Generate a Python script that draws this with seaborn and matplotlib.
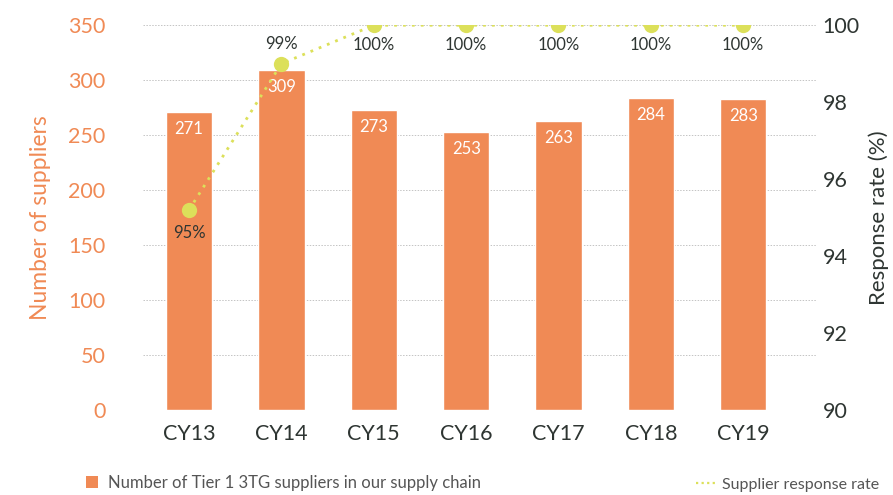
import matplotlib
matplotlib.use("Agg")
import matplotlib.pyplot as plt
from matplotlib.lines import Line2D
import numpy as np
import pandas as pd
import seaborn as sns

years = ["CY13", "CY14", "CY15", "CY16", "CY17", "CY18", "CY19"]
suppliers = [271, 309, 273, 253, 263, 284, 283]
response_rate = [95.2, 99.0, 100, 100, 100, 100, 100]

ORANGE = "#F08A55"
LIME = "#DCE05A"
DARK = "#2E3532"
GRID = "#C4C4C4"

sns.set_theme(style="white")
plt.rcParams["font.family"] = ["Lato", "DejaVu Sans"]

df = pd.DataFrame({"year": years, "suppliers": suppliers, "rate": response_rate})

fig = plt.figure(figsize=(8.93, 4.95), dpi=100)
ax = fig.add_axes([0.160, 0.172, 0.755, 0.777])

sns.barplot(data=df, x="year", y="suppliers", color=ORANGE, width=0.5,
            saturation=1, ax=ax, zorder=2)
ax.set_ylim(0, 350)
ax.set_yticks(np.arange(0, 351, 50))
ax.set_xlim(-0.5, 6.8)
ax.yaxis.grid(True, color=GRID, linestyle=(0, (1.5, 1.5)), linewidth=0.7, zorder=0)
ax.set_axisbelow(True)
for s in ax.spines.values():
    s.set_visible(False)
ax.tick_params(axis="y", colors=ORANGE, labelsize=15.5, length=0, pad=27)
ax.tick_params(axis="x", colors=DARK, labelsize=15.5, length=0, pad=10)
ax.set_xlabel("")
ax.set_ylabel("Number of suppliers", color=ORANGE, fontsize=16.5, labelpad=12)

for i, v in enumerate(suppliers):
    ax.text(i, v - 8, f"{v}", ha="center", va="top", color="white", fontsize=12, zorder=5)

ax2 = ax.twinx()
sns.lineplot(x=np.arange(len(years)), y=response_rate, ax=ax2, color=LIME,
             linestyle=(0, (1, 2.2)), linewidth=2, marker="o", markersize=11,
             markeredgewidth=0, zorder=4)
ax2.set_ylim(90, 100)
ax2.set_yticks(np.arange(90, 101, 2))
for s in ax2.spines.values():
    s.set_visible(False)
ax2.tick_params(axis="y", colors=DARK, labelsize=15.5, length=0, pad=4)
ax2.set_ylabel("Response rate (%)", color=DARK, fontsize=16, labelpad=6)

for i, r in enumerate(response_rate):
    if r >= 99.9:
        ax2.text(i, r - 0.3, f"{r:.0f}%", ha="center", va="top", color=DARK, fontsize=12, zorder=5)
    elif i == 0:
        ax2.text(i, r - 0.4, f"{r:.0f}%", ha="center", va="top", color=DARK, fontsize=12, zorder=5)
    else:
        ax2.text(i, r + 0.3, f"{r:.0f}%", ha="center", va="bottom", color=DARK, fontsize=12, zorder=5)

bar_handle = Line2D([0], [0], marker="s", color="none", markerfacecolor=ORANGE,
                    markeredgewidth=0, markersize=8,
                    label="Number of Tier 1 3TG suppliers in our supply chain")
line_handle = Line2D([0], [0], color=LIME, linestyle=(0, (1, 1.5)), linewidth=1.6,
                     label="Supplier response rate")

leg1 = fig.legend(handles=[bar_handle], loc="lower left", bbox_to_anchor=(0.074, -0.022),
                  frameon=False, fontsize=12, handlelength=1.3, handletextpad=0.3)
leg2 = fig.legend(handles=[line_handle], loc="lower right", bbox_to_anchor=(1.0, -0.022),
                  frameon=False, fontsize=11.5, handlelength=1.3, handletextpad=0.3)
for leg in (leg1, leg2):
    for t in leg.get_texts():
        t.set_color("#555555")

fig.savefig("out.png", dpi=100)
